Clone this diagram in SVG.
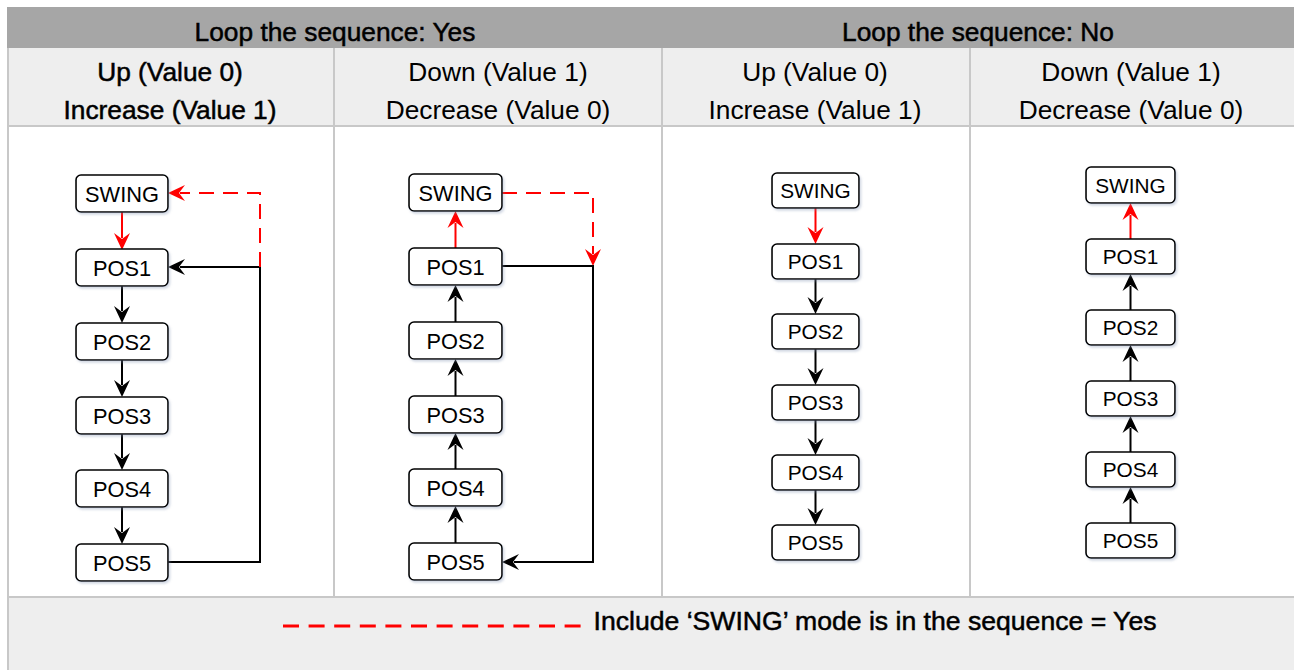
<svg xmlns="http://www.w3.org/2000/svg" width="1294" height="670" viewBox="0 0 1294 670">
<style>
  .hdr { fill:#a6a6a6; }
  .sub { fill:#eeeeee; }
  .grid { stroke:#c8c8c8; stroke-width:2; fill:none; }
  .t { font-family:"Liberation Sans", Arial, sans-serif; fill:#000; text-anchor:middle; }
  .big { font-size:26.3px; }
  .foot { font-size:26.6px; }
  .heavy { stroke:#000; stroke-width:0.5; }
  .node rect { fill:#fff; stroke:#000; stroke-width:1.6; }
  .n1 { font-size:21.8px; }
  .n2 { font-size:20.8px; }
  .blk { stroke:#000; stroke-width:2; fill:none; }
  .red { stroke:#ff0000; stroke-width:2; fill:none; }
  .dash { stroke-dasharray:15 9; }
</style>
<defs>
  <marker id="ab" viewBox="-6 -10 20 20" refX="0" refY="0" markerWidth="20" markerHeight="20" markerUnits="userSpaceOnUse" orient="auto">
    <path d="M12,0 L-5,-8 L1,0 L-5,8 Z" fill="#000"/>
  </marker>
  <marker id="ar" viewBox="-6 -10 20 20" refX="0" refY="0" markerWidth="20" markerHeight="20" markerUnits="userSpaceOnUse" orient="auto">
    <path d="M12,0 L-5,-8 L1,0 L-5,8 Z" fill="#ff0000"/>
  </marker>
  <filter id="sh" x="-20%" y="-20%" width="140%" height="150%">
    <feDropShadow dx="1.5" dy="2" stdDeviation="1.2" flood-color="#8090b0" flood-opacity="0.35"/>
  </filter>
</defs>

<g id="table">
  <rect x="0" y="0" width="1294" height="670" fill="#ffffff"/>
  <rect class="hdr" x="7" y="7" width="1287" height="41"/>
  <rect class="sub" x="7" y="48" width="1287" height="78"/>
  <rect class="sub" x="7" y="597" width="1287" height="73"/>
  <path class="grid" d="M8,48 V670 M7,126 H1294 M7,597 H1294 M334,48 V597 M662,48 V597 M970,48 V597"/>
  <text class="t big heavy" x="335" y="41">Loop the sequence: Yes</text>
  <text class="t big heavy" x="978" y="41">Loop the sequence: No</text>
  <text class="t big heavy" x="170" y="81">Up (Value 0)</text>
  <text class="t big heavy" x="170" y="119">Increase (Value 1)</text>
  <text class="t big" x="498" y="81">Down (Value 1)</text>
  <text class="t big" x="498" y="119">Decrease (Value 0)</text>
  <text class="t big" x="815" y="81">Up (Value 0)</text>
  <text class="t big" x="815" y="119">Increase (Value 1)</text>
  <text class="t big" x="1131" y="81">Down (Value 1)</text>
  <text class="t big" x="1131" y="119">Decrease (Value 0)</text>
</g>

<g id="legend">
  <line x1="283" y1="626" x2="581" y2="626" stroke="#ff0000" stroke-width="3" stroke-dasharray="16 9.6"/>
  <text class="t foot heavy" x="875" y="630">Include ‘SWING’ mode is in the sequence = Yes</text>
</g>

<g id="connectors">
  <!-- column 1 -->
  <path class="red" d="M122,212 V238" marker-end="url(#ar)"/>
  <path class="blk" d="M122,286 V311" marker-end="url(#ab)"/>
  <path class="blk" d="M122,360 V385" marker-end="url(#ab)"/>
  <path class="blk" d="M122,434 V458" marker-end="url(#ab)"/>
  <path class="blk" d="M122,507 V532" marker-end="url(#ab)"/>
  <path class="blk" d="M168,562 H260 V267 H180" marker-end="url(#ab)"/>
  <path class="red dash" d="M260,267 V193 H180" marker-end="url(#ar)"/>
  <!-- column 2 -->
  <path class="red" d="M455.5,248 V223" marker-end="url(#ar)"/>
  <path class="blk" d="M455.5,322 V297" marker-end="url(#ab)"/>
  <path class="blk" d="M455.5,396 V371" marker-end="url(#ab)"/>
  <path class="blk" d="M455.5,469 V445" marker-end="url(#ab)"/>
  <path class="blk" d="M455.5,543 V518" marker-end="url(#ab)"/>
  <path class="red dash" d="M502,193 H593 V254" marker-end="url(#ar)"/>
  <path class="blk" d="M502,266 H593 V562 H514" marker-end="url(#ab)"/>
  <!-- column 3 -->
  <path class="red" d="M815.5,208 V232" marker-end="url(#ar)"/>
  <path class="blk" d="M815.5,279 V302" marker-end="url(#ab)"/>
  <path class="blk" d="M815.5,349 V373" marker-end="url(#ab)"/>
  <path class="blk" d="M815.5,420 V443" marker-end="url(#ab)"/>
  <path class="blk" d="M815.5,490 V513" marker-end="url(#ab)"/>
  <!-- column 4 -->
  <path class="red" d="M1130.5,239 V215" marker-end="url(#ar)"/>
  <path class="blk" d="M1130.5,310 V286" marker-end="url(#ab)"/>
  <path class="blk" d="M1130.5,381 V357" marker-end="url(#ab)"/>
  <path class="blk" d="M1130.5,452 V428" marker-end="url(#ab)"/>
  <path class="blk" d="M1130.5,523 V499" marker-end="url(#ab)"/>
</g>

<!-- column 1 nodes -->
<g id="c1-swing" class="node"><rect x="76" y="175" width="92" height="37" rx="5" filter="url(#sh)"/><text class="t n1" x="122" y="201.5">SWING</text></g>
<g id="c1-pos1" class="node"><rect x="76" y="249" width="92" height="37" rx="5" filter="url(#sh)"/><text class="t n1" x="122" y="275.5">POS1</text></g>
<g id="c1-pos2" class="node"><rect x="76" y="323" width="92" height="37" rx="5" filter="url(#sh)"/><text class="t n1" x="122" y="349.5">POS2</text></g>
<g id="c1-pos3" class="node"><rect x="76" y="397" width="92" height="37" rx="5" filter="url(#sh)"/><text class="t n1" x="122" y="423.5">POS3</text></g>
<g id="c1-pos4" class="node"><rect x="76" y="470" width="92" height="37" rx="5" filter="url(#sh)"/><text class="t n1" x="122" y="496.5">POS4</text></g>
<g id="c1-pos5" class="node"><rect x="76" y="544" width="92" height="37" rx="5" filter="url(#sh)"/><text class="t n1" x="122" y="570.5">POS5</text></g>

<!-- column 2 nodes -->
<g id="c2-swing" class="node"><rect x="409" y="174" width="93" height="37" rx="5" filter="url(#sh)"/><text class="t n1" x="455.5" y="200.5">SWING</text></g>
<g id="c2-pos1" class="node"><rect x="409" y="248" width="93" height="37" rx="5" filter="url(#sh)"/><text class="t n1" x="455.5" y="274.5">POS1</text></g>
<g id="c2-pos2" class="node"><rect x="409" y="322" width="93" height="37" rx="5" filter="url(#sh)"/><text class="t n1" x="455.5" y="348.5">POS2</text></g>
<g id="c2-pos3" class="node"><rect x="409" y="396" width="93" height="37" rx="5" filter="url(#sh)"/><text class="t n1" x="455.5" y="422.5">POS3</text></g>
<g id="c2-pos4" class="node"><rect x="409" y="469" width="93" height="37" rx="5" filter="url(#sh)"/><text class="t n1" x="455.5" y="495.5">POS4</text></g>
<g id="c2-pos5" class="node"><rect x="409" y="543" width="93" height="37" rx="5" filter="url(#sh)"/><text class="t n1" x="455.5" y="569.5">POS5</text></g>

<!-- column 3 nodes -->
<g id="c3-swing" class="node"><rect x="772" y="173" width="87" height="35" rx="5" filter="url(#sh)"/><text class="t n2" x="815.5" y="198">SWING</text></g>
<g id="c3-pos1" class="node"><rect x="772" y="244" width="87" height="35" rx="5" filter="url(#sh)"/><text class="t n2" x="815.5" y="269">POS1</text></g>
<g id="c3-pos2" class="node"><rect x="772" y="314" width="87" height="35" rx="5" filter="url(#sh)"/><text class="t n2" x="815.5" y="339">POS2</text></g>
<g id="c3-pos3" class="node"><rect x="772" y="385" width="87" height="35" rx="5" filter="url(#sh)"/><text class="t n2" x="815.5" y="410">POS3</text></g>
<g id="c3-pos4" class="node"><rect x="772" y="455" width="87" height="35" rx="5" filter="url(#sh)"/><text class="t n2" x="815.5" y="480">POS4</text></g>
<g id="c3-pos5" class="node"><rect x="772" y="525" width="87" height="35" rx="5" filter="url(#sh)"/><text class="t n2" x="815.5" y="550">POS5</text></g>

<!-- column 4 nodes -->
<g id="c4-swing" class="node"><rect x="1086" y="167" width="89" height="36" rx="5" filter="url(#sh)"/><text class="t n2" x="1130.5" y="192.5">SWING</text></g>
<g id="c4-pos1" class="node"><rect x="1086" y="239" width="89" height="35" rx="5" filter="url(#sh)"/><text class="t n2" x="1130.5" y="264">POS1</text></g>
<g id="c4-pos2" class="node"><rect x="1086" y="310" width="89" height="35" rx="5" filter="url(#sh)"/><text class="t n2" x="1130.5" y="335">POS2</text></g>
<g id="c4-pos3" class="node"><rect x="1086" y="381" width="89" height="35" rx="5" filter="url(#sh)"/><text class="t n2" x="1130.5" y="406">POS3</text></g>
<g id="c4-pos4" class="node"><rect x="1086" y="452" width="89" height="35" rx="5" filter="url(#sh)"/><text class="t n2" x="1130.5" y="477">POS4</text></g>
<g id="c4-pos5" class="node"><rect x="1086" y="523" width="89" height="35" rx="5" filter="url(#sh)"/><text class="t n2" x="1130.5" y="548">POS5</text></g>
</svg>
